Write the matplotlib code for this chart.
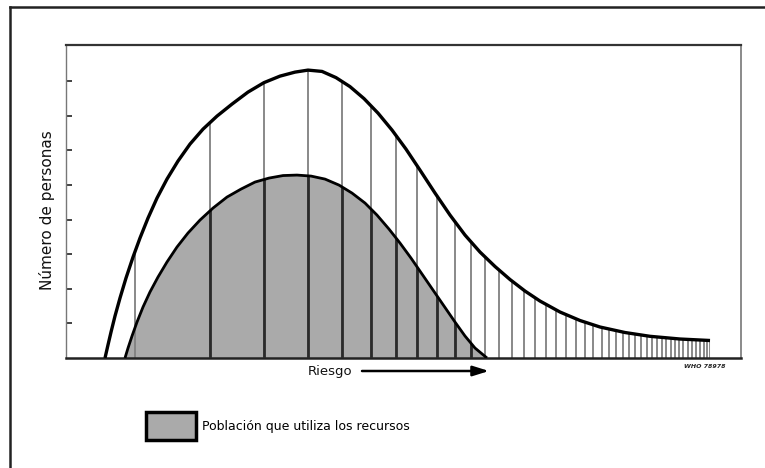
import matplotlib
matplotlib.use("Agg")
import matplotlib.pyplot as plt
from matplotlib.patches import Polygon, Patch
from matplotlib.lines import Line2D

# outer curve: all people exposed, by risk level (arbitrary units)
outer_risk = [5.78, 6.22, 6.67, 7.26, 8.00, 8.89, 9.93, 10.96, 12.15, 13.48, 14.96,
              16.59, 18.37, 20.30, 22.37, 24.59, 26.96, 29.33, 31.70, 33.93, 35.85,
              37.93, 40.00, 42.07, 44.15, 46.22, 48.30, 50.37, 52.44, 54.67, 56.89,
              59.11, 61.33, 63.56, 65.78, 68.00, 70.22, 73.19, 76.15, 79.11, 82.81,
              86.52, 90.96, 95.41]
outer_people = [0.0, 0.376, 0.751, 1.214, 1.734, 2.312, 2.919, 3.468, 4.046, 4.624,
                5.173, 5.694, 6.185, 6.618, 6.994, 7.341, 7.688, 7.962, 8.150, 8.266,
                8.324, 8.286, 8.107, 7.847, 7.500, 7.081, 6.590, 6.040, 5.434, 4.769,
                4.133, 3.555, 3.064, 2.645, 2.269, 1.936, 1.647, 1.329, 1.084, 0.896,
                0.737, 0.627, 0.549, 0.506]

# inner curve: people who use the resources
inner_risk = [8.74, 9.19, 9.78, 10.52, 11.41, 12.44, 13.63, 14.96, 16.44, 18.07,
              19.85, 21.78, 23.85, 25.93, 28.00, 30.07, 32.15, 34.22, 36.30, 38.37,
              40.44, 42.37, 44.30, 46.07, 47.85, 49.48, 51.11, 52.74, 54.37, 56.00,
              57.63, 59.11, 60.59, 62.37]
inner_people = [0.0, 0.289, 0.636, 1.040, 1.474, 1.908, 2.341, 2.775, 3.208, 3.613,
                3.988, 4.335, 4.653, 4.884, 5.087, 5.202, 5.275, 5.289, 5.260, 5.173,
                5.000, 4.769, 4.480, 4.133, 3.728, 3.324, 2.890, 2.428, 1.965, 1.503,
                1.040, 0.636, 0.289, 0.0]

# risk levels of the vertical hatch lines
strip_risk = [10.2, 21.3, 29.3, 35.9, 40.9, 45.2, 48.9, 52.0, 55.0, 57.6, 60.0,
              62.1, 64.1, 66.1, 67.9, 69.5, 71.1, 72.6, 74.1, 75.6, 76.9, 78.1,
              79.4, 80.4, 81.5, 82.5, 83.4, 84.3, 85.2, 86.1, 86.8, 87.6, 88.3,
              88.9, 89.6, 90.2, 90.8, 91.4, 92.1, 92.7, 93.3, 93.9, 94.5, 95.0, 95.4]

y_ticks = [1, 2, 3, 4, 5, 6, 7, 8]

ylabel = "Número de personas"
xlabel = "Riesgo"
legend_label = "Población que utiliza los recursos"
ref_code = "WHO 78978"

W, H = 765, 468
fig = plt.figure(figsize=(W / 100, H / 100), dpi=100)
fig.patch.set_facecolor("white")

ax = fig.add_axes([66 / W, 1 - 358 / H, 675 / W, 313 / H])
ax.set_xlim(0, 100)
ax.set_ylim(0, 9.05)

shade = "#aaaaaa"

# shaded area under inner curve
ax.fill_between(inner_risk, inner_people, 0, color=shade, lw=0, zorder=1)

# clip regions for the vertical lines
outer_poly = Polygon(list(zip(outer_risk, outer_people)) + [(outer_risk[-1], 0), (outer_risk[0], 0)],
                     closed=True, transform=ax.transData)
inner_poly = Polygon(list(zip(inner_risk, inner_people)), closed=True, transform=ax.transData)

light = ax.vlines(strip_risk, 0, 9.05, colors="#808080", lw=1.3, zorder=2)
light.set_clip_path(outer_poly)
dark = ax.vlines(strip_risk[1:], 0, 9.05, colors="#2a2a2a", lw=2.0, zorder=3)
dark.set_clip_path(inner_poly)

ax.plot(outer_risk, outer_people, color="black", lw=2.4, solid_joinstyle="round",
        solid_capstyle="butt", zorder=4)
ax.plot(inner_risk, inner_people, color="black", lw=2.0, solid_joinstyle="round",
        solid_capstyle="butt", zorder=4)

ax.set_xticks([])
ax.set_yticks(y_ticks)
ax.set_yticklabels([])
ax.tick_params(axis="y", direction="in", length=4.5, width=1.2, color="#222222")

for side, lw, col in [("top", 1.6, "#333333"), ("bottom", 1.8, "#222222"),
                      ("left", 1.0, "#777777"), ("right", 1.2, "#777777")]:
    ax.spines[side].set_linewidth(lw)
    ax.spines[side].set_color(col)

# labels
fig.text(47 / W, 1 - 210 / H, ylabel, rotation=90, ha="center", va="center",
         fontsize=11, color="#111111")
fig.text(308 / W, 1 - 371 / H, xlabel, ha="left", va="center", fontsize=9.5,
         color="#111111")
ax.annotate("", xy=(489 / W, 1 - 371 / H), xytext=(362 / W, 1 - 371 / H),
            xycoords="figure fraction", textcoords="figure fraction",
            arrowprops=dict(arrowstyle="-|>,head_length=0.8,head_width=0.25",
                            mutation_scale=12, lw=1.8, color="black",
                            shrinkA=0, shrinkB=0))
fig.text(684 / W, 1 - 366 / H, ref_code, ha="left", va="center", fontsize=4.5,
         fontweight="bold", fontstyle="italic", color="#222222")

# legend
handle = Patch(facecolor=shade, edgecolor="black", lw=2.5)
fig.legend([handle], [legend_label], loc="center left",
           bbox_to_anchor=(146 / W, 1 - 426 / H), frameon=False, fontsize=9,
           handlelength=4.0, handleheight=3.1, handletextpad=0.5,
           borderpad=0, borderaxespad=0)

# outer page frame (top and left edges)
fig.add_artist(Line2D([10 / W, 1], [1 - 7 / H, 1 - 7 / H], color="#222222", lw=1.8))
fig.add_artist(Line2D([10 / W, 10 / W], [1 - 7 / H, 0], color="#222222", lw=1.8))

fig.savefig("out.png", dpi=100)
